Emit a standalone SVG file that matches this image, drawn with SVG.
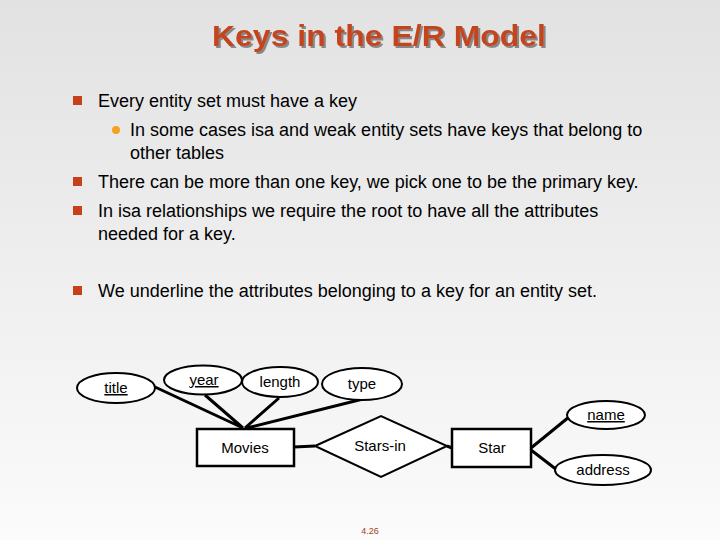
<svg xmlns="http://www.w3.org/2000/svg" width="720" height="540" viewBox="0 0 720 540">
<defs>
<linearGradient id="bg" x1="0" y1="0" x2="0" y2="1"><stop offset="0" stop-color="#e2e2e2"/><stop offset="1" stop-color="#fbfbfb"/></linearGradient>
<filter id="sh" x="-5%" y="-20%" width="110%" height="140%"><feOffset in="SourceAlpha" dx="2" dy="2" result="o"/><feFlood flood-color="#888"/><feComposite in2="o" operator="in"/><feMerge><feMergeNode/><feMergeNode in="SourceGraphic"/></feMerge></filter>
<style>
text{font-family:"Liberation Sans",Arial,sans-serif;fill:#000}
.b{font-size:18px}
.n{font-size:15px}
.s{fill:none;stroke:#000;stroke-width:3}
.f{fill:#fff;stroke:#000;stroke-width:2.5}
.e{fill:#fff;stroke:#000;stroke-width:2}
</style>
</defs>
<rect width="720" height="540" fill="url(#bg)"/>
<text x="212" y="46" textLength="334" lengthAdjust="spacingAndGlyphs" filter="url(#sh)" style="font-size:29px;font-weight:bold;fill:#c4441c">Keys in the E/R Model</text>
<rect x="73" y="96" width="9" height="9" fill="#c8401a"/>
<text class="b" x="98" y="107">Every entity set must have a key</text>
<circle cx="116" cy="130" r="4" fill="#f3a21f"/>
<text class="b" x="130" y="136">In some cases isa and weak entity sets have keys that belong to</text>
<text class="b" x="130" y="159">other tables</text>
<rect x="73" y="177" width="9" height="9" fill="#c8401a"/>
<text class="b" x="98" y="188">There can be more than one key, we pick one to be the primary key.</text>
<rect x="73" y="206" width="9" height="9" fill="#c8401a"/>
<text class="b" x="98" y="217">In isa relationships we require the root to have all the attributes</text>
<text class="b" x="98" y="240">needed for a key.</text>
<rect x="73" y="286" width="9" height="9" fill="#c8401a"/>
<text class="b" x="98" y="297">We underline the attributes belonging to a key for an entity set.</text>
<g id="connectors">
<path class="s" d="M155 387L243 428M205 395L243 428M279 398L245 428M363 399L247 428M294 447L315 446M447 446L452 448M531 448L569 417M531 450L557 470"/>
</g>
<g id="title"><ellipse class="e" cx="116" cy="388" rx="39" ry="15"/><text class="n" x="116" y="393" text-anchor="middle" text-decoration="underline">title</text></g>
<g id="year"><ellipse class="e" cx="203" cy="380" rx="39" ry="14.5"/><text class="n" x="204" y="385" text-anchor="middle" text-decoration="underline">year</text></g>
<g id="length"><ellipse class="e" cx="280" cy="382" rx="38" ry="15"/><text class="n" x="280" y="387" text-anchor="middle">length</text></g>
<g id="type"><ellipse class="e" cx="362" cy="384" rx="40" ry="16"/><text class="n" x="362" y="389" text-anchor="middle">type</text></g>
<g id="movies"><rect class="f" x="197" y="429" width="97" height="37"/><text class="n" x="245" y="453" text-anchor="middle">Movies</text></g>
<g id="starsin"><polygon class="e" points="315,446 381,416 447,446 381,477"/><text class="n" x="380" y="451" text-anchor="middle">Stars-in</text></g>
<g id="star"><rect class="f" x="452" y="429" width="79" height="38"/><text class="n" x="492" y="453" text-anchor="middle">Star</text></g>
<g id="name"><ellipse class="e" cx="606" cy="415" rx="39" ry="14"/><text class="n" x="606" y="420" text-anchor="middle" text-decoration="underline">name</text></g>
<g id="address"><ellipse class="e" cx="603" cy="470" rx="48" ry="15"/><text class="n" x="603" y="475" text-anchor="middle">address</text></g>
<text x="370" y="534" text-anchor="middle" style="font-size:9px;fill:#a0401a">4.26</text>
</svg>
